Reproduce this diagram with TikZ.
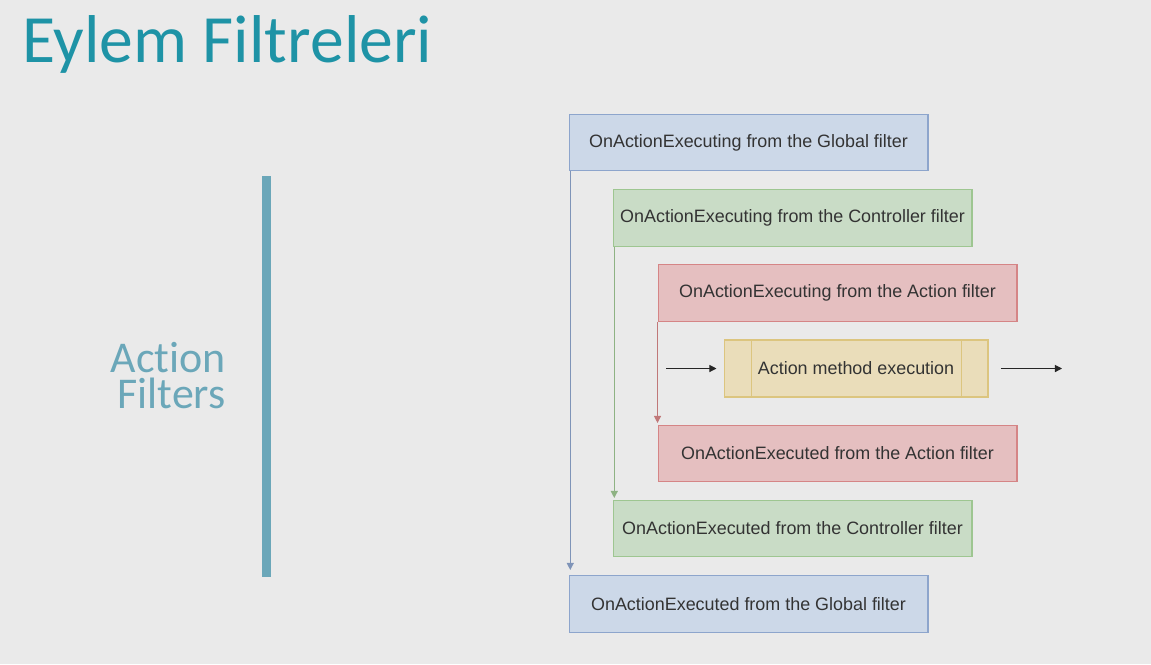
\documentclass[tikz,border=0pt]{standalone}
\usepackage{fontspec}
\setmainfont{Liberation Sans}
\newfontfamily\slidefont[Ligatures={NoCommon}]{Carlito}
\usetikzlibrary{arrows.meta}
\definecolor{slidebg}{HTML}{EAEAEA}
\definecolor{titleteal}{HTML}{1E93A6}
\definecolor{sideteal}{HTML}{6BA7B9}
\definecolor{globfill}{HTML}{CCD8E8}
\definecolor{globline}{HTML}{8DA5CC}
\definecolor{ctrlfill}{HTML}{C9DCC6}
\definecolor{ctrlline}{HTML}{9EC691}
\definecolor{actfill}{HTML}{E5BFC0}
\definecolor{actline}{HTML}{D58586}
\definecolor{methfill}{HTML}{EADDBA}
\definecolor{methline}{HTML}{DCC57F}
\definecolor{boxtext}{HTML}{333333}
\begin{document}
\begin{tikzpicture}[x=0.02cm,y=-0.02cm,
    filterbox/.style={draw,line width=0.6pt,minimum width=7.18cm,minimum height=1.13cm,
        text=boxtext,font=\fontsize{10.2}{12}\selectfont,inner sep=0pt},
    global/.style={filterbox,fill=globfill,draw=globline},
    ctrl/.style={filterbox,fill=ctrlfill,draw=ctrlline},
    act/.style={filterbox,fill=actfill,draw=actline},
    flow/.style={line width=0.6pt,-{Triangle[length=4pt,width=4pt]}}]
    \fill [slidebg] (0,0) rectangle (1151,664);
    \useasboundingbox (0,0) rectangle (1151,664);
    % slide title and side label
    \node (title) [anchor=base west,inner sep=0pt,text=titleteal,
        font=\slidefont\fontsize{38.5}{46}\selectfont] at (22,62) {Eylem Filtreleri};
    \node (side) [anchor=east,inner sep=0pt,text=sideteal,align=right,
        font=\slidefont\fontsize{25}{20.5}\selectfont] at (226,376) {Action\\Filters};
    \fill [sideteal] (262,176) rectangle (271,577);
    % filter boxes
    \node (glob1) [global] at (748.5,142.5) {OnActionExecuting from the Global filter};
    \node (ctrl1) [ctrl] at (792.5,218) {OnActionExecuting from the Controller filter};
    \node (act1) [act] at (837.5,293) {OnActionExecuting from the Action filter};
    \node (meth) [draw=methline,fill=methfill,line width=0.6pt,minimum width=5.28cm,
        minimum height=1.14cm,text=boxtext,font=\fontsize{10.2}{12}\selectfont] at (856,368.5)
        {Action method execution};
    \draw [methline,line width=0.6pt] ([xshift=0.56cm]meth.north west) -- ([xshift=0.56cm]meth.south west);
    \draw [methline,line width=0.6pt] ([xshift=-0.54cm]meth.north east) -- ([xshift=-0.54cm]meth.south east);
    \node (act2) [act] at (837.5,453.5) {OnActionExecuted from the Action filter};
    \node (ctrl2) [ctrl] at (792.5,528.5) {OnActionExecuted from the Controller filter};
    \node (glob2) [global] at (748.5,604) {OnActionExecuted from the Global filter};
    % connectors
    \draw [flow,globline!90!black,shorten >=3pt] ([xshift=1pt]glob1.south west) -- ([xshift=1pt]glob2.north west);
    \draw [flow,ctrlline!90!black,shorten >=1pt] ([xshift=1pt]ctrl1.south west) -- ([xshift=1pt]ctrl2.north west);
    \draw [flow,actline!90!black,shorten >=1pt] (act1.south west) -- (act2.north west);
    \coordinate (inpt) at (666,368.5);
    \coordinate (outpt) at (1062,368.5);
    \draw [flow,black!85,shorten >=4pt] (inpt) -- (meth.west);
    \draw [flow,black!85,shorten <=7pt] (meth.east) -- (outpt);
\end{tikzpicture}
\end{document}
